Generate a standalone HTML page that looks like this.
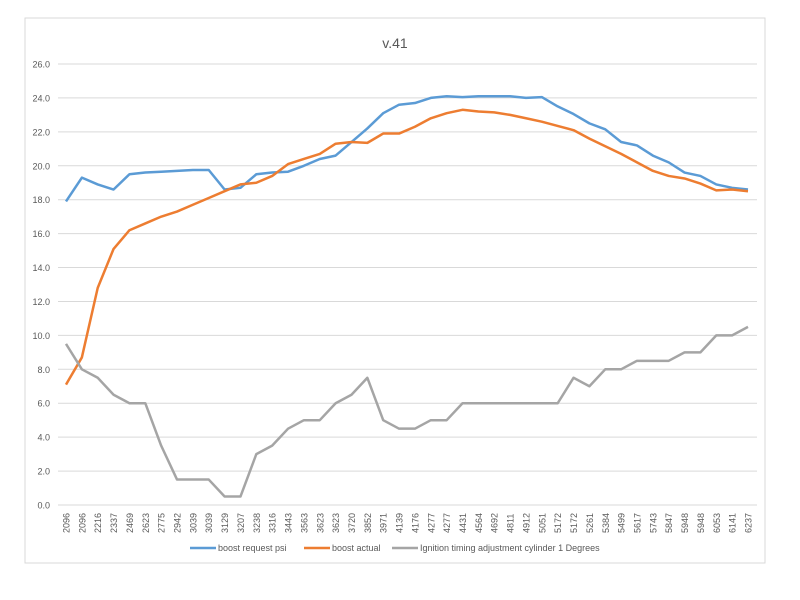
<!DOCTYPE html>
<html><head><meta charset="utf-8"><style>
body{margin:0;background:#fff;font-family:"Liberation Sans",sans-serif;}
svg{display:block}
</style></head><body>
<svg width="800" height="600">
<rect x="25" y="18" width="740" height="545" fill="#fff" stroke="#d9d9d9"/>
<text x="395" y="48" text-anchor="middle" font-size="14" fill="#595959">v.41</text>
<g id="grid"></g><g id="ylab"></g><g id="xlab"></g><g id="series"></g>
<g id="legend"></g>
</svg>
<script>
const categories=["2096","2096","2216","2337","2469","2623","2775","2942","3039","3039","3129","3207","3238","3316","3443","3563","3623","3623","3720","3852","3971","4139","4176","4277","4277","4431","4564","4692","4811","4912","5051","5172","5172","5261","5384","5499","5617","5743","5847","5948","5948","6053","6141","6237"];
const boostRequest=[17.9,19.3,18.9,18.6,19.5,19.6,19.65,19.7,19.75,19.75,18.6,18.7,19.5,19.6,19.65,20.0,20.4,20.6,21.4,22.2,23.1,23.6,23.7,24.0,24.1,24.05,24.1,24.1,24.1,24.0,24.05,23.5,23.05,22.5,22.15,21.4,21.2,20.6,20.2,19.6,19.4,18.9,18.7,18.6];
const boostActual=[7.1,8.7,12.8,15.1,16.2,16.6,17.0,17.3,17.7,18.1,18.5,18.9,19.0,19.4,20.1,20.4,20.7,21.3,21.4,21.35,21.9,21.9,22.3,22.8,23.1,23.3,23.2,23.15,23.0,22.8,22.6,22.35,22.1,21.6,21.15,20.7,20.2,19.7,19.4,19.25,18.95,18.55,18.6,18.5];
const ignition=[9.5,8.0,7.5,6.5,6.0,6.0,3.5,1.5,1.5,1.5,0.5,0.5,3.0,3.5,4.5,5.0,5.0,6.0,6.5,7.5,5.0,4.5,4.5,5.0,5.0,6.0,6,6,6,6,6,6,7.5,7.0,8.0,8.0,8.5,8.5,8.5,9.0,9.0,10.0,10.0,10.5];
const yTicks=[0,2,4,6,8,10,12,14,16,18,20,22,24,26];
const seriesNames=["boost request psi","boost actual","Ignition timing adjustment cylinder 1  Degrees"];
const colors=["#5b9bd5","#ed7d31","#a5a5a5"];
const NS="http://www.w3.org/2000/svg";
const x0=66,x1=748,yb=505,yt=64;
const xS=i=>x0+i*(x1-x0)/(categories.length-1);
const yS=v=>yb-v*(yb-yt)/26;
function mk(t,a,p){const e=document.createElementNS(NS,t);for(const k in a)e.setAttribute(k,a[k]);p.appendChild(e);return e;}
const g=document.getElementById('grid'),yl=document.getElementById('ylab'),xl=document.getElementById('xlab'),sg=document.getElementById('series'),lg=document.getElementById('legend');
yTicks.forEach(v=>{
 const l=mk('line',{x1:58,x2:757,y1:yS(v),y2:yS(v),stroke:'#d9d9d9','stroke-width':1},g);
 
 
 const t=mk('text',{x:50,y:yS(v)+3.5,'text-anchor':'end','font-size':9,fill:'#595959'},yl);
 t.textContent=v.toFixed(1);
 
 
});
categories.forEach((c,i)=>{
 const t=mk('text',{transform:`translate(${xS(i)+3.5},533) rotate(-90)`,'font-size':9,fill:'#595959'},xl);
 t.textContent=c;
 
 
});
[boostRequest,boostActual,ignition].forEach((d,s)=>{
 const p=mk('polyline',{points:d.map((v,i)=>xS(i)+','+yS(v)).join(' '),fill:'none',stroke:colors[s],'stroke-width':2.5,'stroke-linejoin':'round'},sg);
 
 
});
const lx=[190,304,392];
seriesNames.forEach((n,s)=>{
 const l=mk('line',{x1:lx[s],x2:lx[s]+26,y1:548,y2:548,stroke:colors[s],'stroke-width':2.5},lg);
 
 
 const t=mk('text',{x:lx[s]+28,y:551,'font-size':9,fill:'#595959'},lg);
 t.textContent=n;
 
 
});
</script>
</body></html>
